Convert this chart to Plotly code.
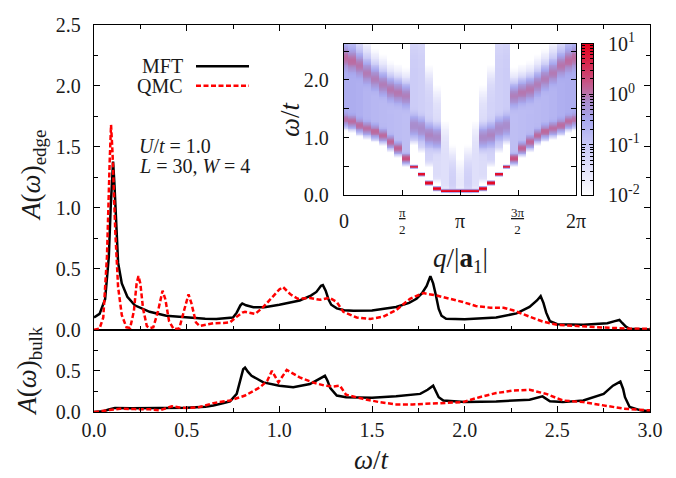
import numpy as np
import plotly.graph_objects as go

# ---------------- A(omega) at the edge ----------------
W_EDGE_MFT = [0.00, 0.03, 0.06, 0.08, 0.09, 0.10, 0.103, 0.11, 0.12, 0.13, 0.15, 0.18, 0.22, 0.30, 0.39,
              0.50, 0.60, 0.66, 0.72, 0.75, 0.77, 0.79, 0.80, 0.82, 0.86, 0.92, 1.00, 1.11, 1.17, 1.20,
              1.225, 1.235, 1.25, 1.265, 1.28, 1.31, 1.35, 1.40, 1.50, 1.63, 1.70, 1.74, 1.77, 1.795,
              1.815, 1.83, 1.845, 1.86, 1.875, 1.90, 2.00, 2.17, 2.28, 2.35, 2.39, 2.41, 2.425, 2.44,
              2.46, 2.50, 2.64, 2.77, 2.81, 2.835, 2.85, 2.87, 2.89, 2.95, 3.00]
A_EDGE_MFT = [0.10, 0.13, 0.25, 0.60, 1.00, 1.36, 1.38, 1.20, 0.80, 0.55, 0.38, 0.27, 0.20, 0.147, 0.115,
              0.100, 0.090, 0.088, 0.092, 0.100, 0.14, 0.20, 0.215, 0.200, 0.185, 0.185, 0.205, 0.24, 0.28, 0.31,
              0.36, 0.366, 0.32, 0.25, 0.205, 0.175, 0.16, 0.155, 0.158, 0.187, 0.22, 0.254, 0.30, 0.36,
              0.44, 0.38, 0.28, 0.17, 0.115, 0.09, 0.086, 0.10, 0.134, 0.187, 0.24, 0.275, 0.22, 0.14,
              0.07, 0.045, 0.04, 0.053, 0.07, 0.08, 0.055, 0.025, 0.008, 0.003, 0.002]

W_EDGE_QMC = [0.00, 0.03, 0.05, 0.07, 0.085, 0.092, 0.10, 0.115, 0.13, 0.15, 0.175, 0.195, 0.215, 0.23,
              0.24, 0.25, 0.265, 0.285, 0.30, 0.32, 0.345, 0.37, 0.385, 0.405, 0.43, 0.46, 0.49, 0.51,
              0.525, 0.55, 0.57, 0.60, 0.644, 0.70, 0.734, 0.77, 0.80, 0.815, 0.84, 0.87, 0.914, 0.96,
              1.00, 1.02, 1.06, 1.10, 1.165, 1.22, 1.27, 1.31, 1.345, 1.417, 1.49, 1.56, 1.63, 1.705,
              1.777, 1.85, 1.92, 1.99, 2.06, 2.14, 2.21, 2.26, 2.35, 2.42, 2.50, 2.57, 2.64, 2.71,
              2.82, 2.89, 3.00]
A_EDGE_QMC = [0.00, 0.01, 0.10, 0.60, 1.40, 1.68, 1.45, 0.80, 0.35, 0.12, 0.02, 0.015, 0.15, 0.38,
              0.44, 0.38, 0.17, 0.03, 0.013, 0.02, 0.15, 0.32, 0.25, 0.07, 0.005, 0.01, 0.18, 0.29,
              0.22, 0.06, 0.03, 0.04, 0.053, 0.055, 0.06, 0.107, 0.14, 0.147, 0.14, 0.13, 0.187, 0.267,
              0.33, 0.35, 0.29, 0.254, 0.26, 0.245, 0.262, 0.227, 0.147, 0.10, 0.088, 0.107, 0.16, 0.254,
              0.30, 0.28, 0.254, 0.227, 0.195, 0.18, 0.18, 0.16, 0.107, 0.067, 0.04, 0.032, 0.027, 0.021,
              0.013, 0.008, 0.008]

# ---------------- A(omega) in the bulk ----------------
W_BULK_MFT = [0.00, 0.05, 0.08, 0.10, 0.113, 0.20, 0.30, 0.40, 0.50, 0.60, 0.644, 0.70, 0.734, 0.77,
              0.79, 0.805, 0.815, 0.83, 0.85, 0.914, 1.00, 1.075, 1.165, 1.22, 1.246, 1.26, 1.275, 1.31,
              1.36, 1.50, 1.63, 1.76, 1.80, 1.83, 1.845, 1.86, 1.885, 2.00, 2.17, 2.35, 2.42, 2.44,
              2.46, 2.53, 2.64, 2.75, 2.80, 2.84, 2.855, 2.865, 2.89, 2.95, 3.00]
A_BULK_MFT = [0.00, 0.01, 0.03, 0.045, 0.05, 0.045, 0.045, 0.048, 0.052, 0.065, 0.08, 0.11, 0.13, 0.22,
              0.40, 0.52, 0.54, 0.49, 0.44, 0.36, 0.32, 0.30, 0.34, 0.41, 0.44, 0.38, 0.29, 0.20,
              0.18, 0.172, 0.19, 0.22, 0.27, 0.32, 0.25, 0.18, 0.14, 0.12, 0.128, 0.15, 0.19, 0.16,
              0.13, 0.12, 0.14, 0.22, 0.32, 0.37, 0.28, 0.18, 0.06, 0.02, 0.008]

W_BULK_QMC = [0.00, 0.068, 0.14, 0.22, 0.30, 0.356, 0.42, 0.46, 0.50, 0.57, 0.644, 0.734, 0.815, 0.896,
              0.935, 0.96, 0.995, 1.04, 1.11, 1.18, 1.245, 1.29, 1.327, 1.36, 1.45, 1.54, 1.63, 1.72,
              1.81, 1.90, 1.99, 2.08, 2.17, 2.26, 2.35, 2.44, 2.53, 2.64, 2.75, 2.86, 3.00]
A_BULK_QMC = [0.00, 0.02, 0.04, 0.035, 0.032, 0.02, 0.07, 0.055, 0.048, 0.06, 0.108, 0.14, 0.20, 0.30,
              0.38, 0.50, 0.36, 0.51, 0.42, 0.36, 0.32, 0.31, 0.32, 0.21, 0.16, 0.12, 0.092, 0.092,
              0.10, 0.112, 0.12, 0.18, 0.23, 0.26, 0.27, 0.22, 0.14, 0.12, 0.08, 0.04, 0.02]

# ---------------- inset: A(q, omega) at the edge, q = 2*pi*n/30 ----------------
Q_INDEX = list(range(31))
LOW_BRANCH = [1.30, 1.27, 1.20, 1.15, 1.10, 1.03, 0.92, 0.81, 0.63, 0.49, 0.36, 0.21, 0.11, 0.07, 0.07, 0.07,
              0.07, 0.07, 0.11, 0.21, 0.36, 0.49, 0.63, 0.81, 0.92, 1.03, 1.10, 1.15, 1.20, 1.27, 1.30]
LOW_WEIGHT = [0.9, 1.0, 1.0, 1.0, 1.1, 1.1, 1.2, 1.3, 1.8, 8.0, 9.0, 10.0, 10.0, 10.0, 10.0, 10.0,
              10.0, 10.0, 10.0, 10.0, 9.0, 8.0, 1.8, 1.3, 1.2, 1.1, 1.1, 1.0, 1.0, 1.0, 0.9]
LOW_WIDTH = [0.06, 0.06, 0.06, 0.06, 0.06, 0.055, 0.055, 0.05, 0.04, 0.012, 0.012, 0.012, 0.012, 0.012,
             0.012, 0.012, 0.012, 0.012, 0.012, 0.012, 0.012, 0.012, 0.04, 0.05, 0.055, 0.055, 0.06, 0.06,
             0.06, 0.06, 0.06]
UP_BRANCH = [2.38, 2.33, 2.25, 2.12, 2.02, 1.92, 1.83, 1.78, 1.72, 1.20, 1.15, 1.04, 1.00, 0.0, 0.0, 0.0,
             0.0, 0.0, 1.00, 1.04, 1.15, 1.20, 1.72, 1.78, 1.83, 1.92, 2.02, 2.12, 2.25, 2.33, 2.38]
UP_WEIGHT = [0.9, 0.9, 0.8, 0.75, 0.75, 0.75, 0.85, 0.85, 0.75, 0.6, 0.65, 0.75, 0.7, 0.0, 0.0, 0.0,
             0.0, 0.0, 0.7, 0.75, 0.65, 0.6, 0.75, 0.85, 0.85, 0.75, 0.75, 0.75, 0.8, 0.9, 0.9]
CONT_LO = [1.30, 1.27, 1.20, 1.15, 1.10, 1.03, 0.92, 0.81, 0.63, 0.95, 0.80, 0.55, 0.25, 0.10, 0.09, 0.09,
           0.09, 0.10, 0.25, 0.55, 0.80, 0.95, 0.63, 0.81, 0.92, 1.03, 1.10, 1.15, 1.20, 1.27, 1.30]
CONT_HI = [2.70, 2.65, 2.45, 2.30, 2.15, 2.05, 1.95, 1.90, 1.85, 2.70, 2.70, 2.00, 1.70, 1.10, 0.60, 0.50,
           0.60, 1.10, 1.70, 2.00, 2.70, 2.70, 1.85, 1.90, 1.95, 2.05, 2.15, 2.30, 2.45, 2.65, 2.70]
CONT_WEIGHT = [0.26, 0.26, 0.24, 0.2, 0.18, 0.17, 0.16, 0.15, 0.14, 0.08, 0.07, 0.06, 0.04, 0.035, 0.07, 0.025,
               0.07, 0.035, 0.04, 0.06, 0.07, 0.08, 0.14, 0.15, 0.16, 0.17, 0.18, 0.2, 0.24, 0.26, 0.26]
INSET_Q_TICKS = [0.0, np.pi / 2, np.pi, 3 * np.pi / 2, 2 * np.pi]
INSET_Q_LABELS = ["0", "<span style='text-decoration:underline'>π</span><br>2", "π",
                  "<span style='text-decoration:underline'>3π</span><br>2", "2π"]

MAIN_X_TICKS = [0.0, 0.5, 1.0, 1.5, 2.0, 2.5, 3.0]
EDGE_Y_TICKS = [0.0, 0.5, 1.0, 1.5, 2.0, 2.5]
BULK_Y_TICKS = [0.0, 0.5]
CBAR_DECADES = [-2, -1, 0, 1]

# spectral weight on a fine frequency grid, column by column
q_vals = 2 * np.pi * np.array(Q_INDEX) / 30.0
omega = np.arange(0.0075, 2.64, 0.015)


def step(x, w):
    return 1.0 / (1.0 + np.exp(-x / w))


cols = []
for n in Q_INDEX:
    col = 0.004 + CONT_WEIGHT[n] * step(omega - CONT_LO[n], 0.03) * step(CONT_HI[n] - omega, 0.12)
    col = col + LOW_WEIGHT[n] * np.exp(-0.5 * ((omega - LOW_BRANCH[n]) / LOW_WIDTH[n]) ** 2)
    col = col + UP_WEIGHT[n] * np.exp(-0.5 * ((omega - UP_BRANCH[n]) / 0.1) ** 2)
    cols.append(col)
z_log = np.clip(np.log10(np.array(cols).T), -2.0, 1.0)

# ---------------- figure ----------------
SERIF = "Liberation Serif"
INK = "#1a1a1a"
L, R, T, B, W, H = 94, 26, 17, 66, 676, 478
PW, PH = W - L - R, H - T - B


def px(x):
    return (x - L) / PW


def py(y):
    return (H - B - y) / PH


split = 84 / PH
COLORSCALE = [[0.0, "#ffffff"], [0.333, "#c8c8f6"], [0.5, "#a8a8ee"], [0.62, "#a98bcb"],
              [0.68, "#ba6ea4"], [0.8, "#cf3f6c"], [1.0, "#e8001a"]]

fig = go.Figure()

fig.add_trace(go.Scatter(x=W_EDGE_MFT, y=A_EDGE_MFT, mode="lines", line=dict(color="black", width=2.5),
                         xaxis="x2", yaxis="y2", showlegend=False))
fig.add_trace(go.Scatter(x=W_EDGE_QMC, y=A_EDGE_QMC, mode="lines",
                         line=dict(color="#ff0000", width=2.5, dash="5px,2.5px"),
                         xaxis="x2", yaxis="y2", showlegend=False))
fig.add_trace(go.Scatter(x=W_BULK_MFT, y=A_BULK_MFT, mode="lines", line=dict(color="black", width=2.5),
                         xaxis="x", yaxis="y", showlegend=False))
fig.add_trace(go.Scatter(x=W_BULK_QMC, y=A_BULK_QMC, mode="lines",
                         line=dict(color="#ff0000", width=2.5, dash="5px,2.5px"),
                         xaxis="x", yaxis="y", showlegend=False))

fig.add_trace(go.Heatmap(x=q_vals, y=omega, z=z_log, zmin=-2, zmax=1, zsmooth=False, xaxis="x3", yaxis="y3",
                         colorscale=COLORSCALE, showscale=False, hoverinfo="skip"))

# colour key: a vertical strip of log10 values on its own axes
key_levels = np.linspace(-2.0, 1.0, 240)
fig.add_trace(go.Heatmap(x=[0.0], y=key_levels, z=key_levels.reshape(-1, 1), zmin=-2, zmax=1,
                         zsmooth=False, xaxis="x4", yaxis="y4", colorscale=COLORSCALE, showscale=False,
                         hoverinfo="skip"))

axis_common = dict(showline=True, linecolor="black", linewidth=1.3, ticks="inside", tickcolor="black",
                   tickwidth=1, showgrid=False, zeroline=False,
                   tickfont=dict(family=SERIF, size=20, color=INK))

key_minor = [np.log10(k * 10.0 ** d) for d in (-2, -1, 0) for k in range(2, 10)]

fig.update_layout(
    width=W, height=H, autosize=False, margin=dict(l=L, r=R, t=T, b=B),
    paper_bgcolor="white", plot_bgcolor="white",
    xaxis=dict(axis_common, domain=[0, 1], range=[0, 3], anchor="y", mirror=True,
               tickmode="array", tickvals=MAIN_X_TICKS, ticktext=["%.1f" % v for v in MAIN_X_TICKS],
               ticklen=6, ticklabelstandoff=0,
               minor=dict(tickvals=[0.25, 0.75, 1.25, 1.75, 2.25, 2.75], ticklen=4, ticks="inside",
                          tickcolor="black")),
    yaxis=dict(axis_common, domain=[0, split], range=[0, 1], anchor="x", mirror="allticks",
               tickmode="array", tickvals=BULK_Y_TICKS, ticktext=["%.1f" % v for v in BULK_Y_TICKS],
               ticklen=6, ticklabelstandoff=8,
               minor=dict(tickvals=[0.25, 0.75], ticklen=4, ticks="inside", tickcolor="black")),
    xaxis2=dict(axis_common, domain=[0, 1], range=[0, 3], anchor="y2", mirror="allticks",
                showticklabels=False, tickmode="array", tickvals=MAIN_X_TICKS, ticklen=6,
                minor=dict(tickvals=[0.25, 0.75, 1.25, 1.75, 2.25, 2.75], ticklen=4, ticks="inside",
                           tickcolor="black")),
    yaxis2=dict(axis_common, domain=[split, 1], range=[0, 2.5], anchor="x2", mirror="allticks",
                tickmode="array", tickvals=EDGE_Y_TICKS, ticktext=["%.1f" % v for v in EDGE_Y_TICKS],
                ticklen=6, ticklabelstandoff=8,
                minor=dict(tickvals=[0.25, 0.75, 1.25, 1.75, 2.25], ticklen=4, ticks="inside",
                           tickcolor="black")),
    xaxis3=dict(axis_common, domain=[px(344), px(576)], range=[0, 2 * np.pi], anchor="y3",
                mirror="allticks", showticklabels=False, tickmode="array", tickvals=INSET_Q_TICKS,
                ticklen=5),
    yaxis3=dict(axis_common, domain=[py(191), py(36)], range=[0, 2.63], anchor="x3", mirror="allticks",
                tickmode="array", tickvals=[0.0, 1.0, 2.0], ticktext=["0.0", "1.0", "2.0"], ticklen=5,
                ticklabelstandoff=10,
                minor=dict(tickvals=[0.5, 1.5, 2.5], ticklen=5, ticks="inside", tickcolor="black")),
    xaxis4=dict(domain=[px(582), px(593)], range=[-0.5, 0.5], anchor="y4", showline=True, mirror=True,
                linecolor="black", linewidth=1, ticks="", showticklabels=False, showgrid=False,
                zeroline=False, fixedrange=True),
    yaxis4=dict(axis_common, domain=[py(191), py(36)], range=[-2, 1], anchor="x4", side="right",
                mirror="allticks", linewidth=1, tickmode="array", tickvals=CBAR_DECADES,
                ticktext=["10<sup>%d</sup>" % d for d in CBAR_DECADES], ticklen=4, ticklabelstandoff=10,
                minor=dict(tickvals=key_minor, ticklen=3, ticks="inside", tickcolor="black")),
)

ann = []
title_font = dict(family=SERIF, size=27, color=INK)
text_font = dict(family=SERIF, size=20, color=INK)
ann.append(dict(text="<i>A</i>(<i>ω</i>)<sub>edge</sub>", x=px(33), y=py(171), xref="paper", yref="paper",
                textangle=-90, showarrow=False, font=title_font, xanchor="center", yanchor="middle"))
ann.append(dict(text="<i>A</i>(<i>ω</i>)<sub>bulk</sub>", x=px(29), y=py(370), xref="paper", yref="paper",
                textangle=-90, showarrow=False, font=title_font, xanchor="center", yanchor="middle"))
ann.append(dict(text="<i>ω</i>/<i>t</i>", x=px(372), y=py(461), xref="paper", yref="paper",
                showarrow=False, font=title_font, xanchor="center", yanchor="middle"))
ann.append(dict(text="<i>ω</i>/<i>t</i>", x=px(290), y=py(113), xref="paper", yref="paper",
                textangle=-90, showarrow=False, font=title_font, xanchor="center", yanchor="middle"))
ann.append(dict(text="<i>q</i>/|<b>a</b><sub>1</sub>|", x=px(460), y=py(257), xref="paper", yref="paper",
                showarrow=False, font=title_font, xanchor="center", yanchor="middle"))
for qv, lab in zip(INSET_Q_TICKS, INSET_Q_LABELS):
    small = "<br>" in lab
    ann.append(dict(text=lab, x=qv, y=py(217), xref="x3", yref="paper", showarrow=False,
                    font=dict(family=SERIF, size=13 if small else 20, color=INK),
                    xanchor="center", yanchor="middle"))
ann.append(dict(text="MFT", x=px(185), y=py(59), xref="paper", yref="paper", showarrow=False,
                font=text_font, xanchor="right", yanchor="middle"))
ann.append(dict(text="QMC", x=px(185), y=py(79), xref="paper", yref="paper", showarrow=False,
                font=text_font, xanchor="right", yanchor="middle"))
ann.append(dict(text="<i>U</i>/<i>t</i> = 1.0", x=px(137), y=py(141), xref="paper", yref="paper",
                showarrow=False, font=text_font, xanchor="left", yanchor="middle"))
ann.append(dict(text="<i>L</i> = 30, <i>W</i> = 4", x=px(137), y=py(161), xref="paper", yref="paper",
                showarrow=False, font=text_font, xanchor="left", yanchor="middle"))
fig.update_layout(annotations=ann)

# legend line samples
fig.add_shape(type="line", xref="paper", yref="paper", x0=px(196), x1=px(249), y0=py(59), y1=py(59),
              line=dict(color="black", width=2.5))
fig.add_shape(type="line", xref="paper", yref="paper", x0=px(196), x1=px(249), y0=py(79), y1=py(79),
              line=dict(color="#ff0000", width=2.5, dash="5px,2.5px"))

fig.write_html("out.html")
